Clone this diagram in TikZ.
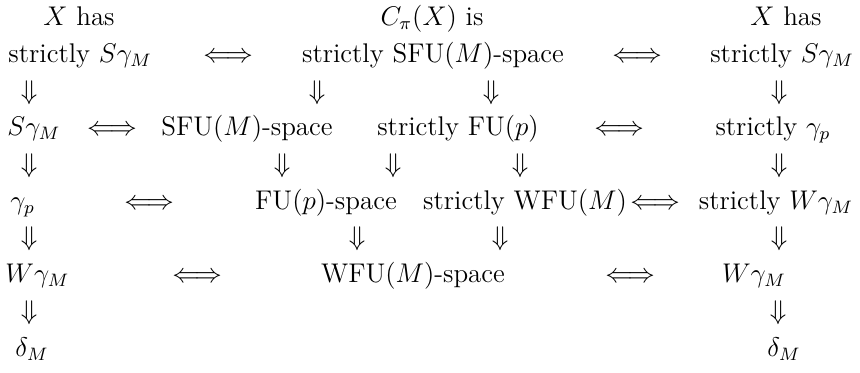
\documentclass[tikz,border=0pt,12pt]{standalone}
\begin{document}
\begin{tikzpicture}[x=0.4444pt,y=-0.4444pt,
  lbl/.style={inner sep=0pt,anchor=base},
  lft/.style={inner sep=0pt,anchor=base west},
  iff/.style={inner sep=0pt,anchor=base},
  dn/.style={inner sep=0pt,anchor=base}]
\useasboundingbox (0,0) rectangle (860,372);
% row 1
\node[lft] (a1) at (43,25) {$X$ has};
\node[lbl] (b1) at (432,25) {$C_\pi(X)$ is};
\node[lbl] (c1) at (786,25) {$X$ has};
% row 2
\node[lft] (a2) at (8,62) {strictly $S\gamma_M$};
\node[iff] (e21) at (228,62) {$\Longleftrightarrow$};
\node[lbl] (b2) at (433,62) {strictly SFU$(M)$-space};
\node[iff] (e22) at (637,62) {$\Longleftrightarrow$};
\node[lbl] (c2) at (782,62) {strictly $S\gamma_M$};
% row 3 arrows
\node[dn] (d31) at (29,99) {$\Downarrow$};
\node[dn] (d32) at (317,99) {$\Downarrow$};
\node[dn] (d33) at (491,99) {$\Downarrow$};
\node[dn] (d34) at (779,99) {$\Downarrow$};
% row 4
\node[lft] (a4) at (7,135) {$S\gamma_M$};
\node[iff] (e41) at (112,135) {$\Longleftrightarrow$};
\node[lbl] (b4) at (247,135) {SFU$(M)$-space};
\node[lbl] (c4) at (458,135) {strictly FU$(p)$};
\node[iff] (e42) at (619,135) {$\Longleftrightarrow$};
\node[lbl] (f4) at (773,135) {strictly $\gamma_p$};
% row 5 arrows
\node[dn] (d51) at (29,172) {$\Downarrow$};
\node[dn] (d52) at (282,172) {$\Downarrow$};
\node[dn] (d53) at (393,172) {$\Downarrow$};
\node[dn] (d54) at (520,172) {$\Downarrow$};
\node[dn] (d55) at (779,172) {$\Downarrow$};
% row 6
\node[lft] (a6) at (10,209) {$\gamma_p$};
\node[iff] (e61) at (149,209) {$\Longleftrightarrow$};
\node[lbl] (b6) at (326,209) {FU$(p)$-space};
\node[lbl] (c6) at (525,209) {strictly WFU$(M)$};
\node[iff] (e62) at (655,209) {$\Longleftrightarrow$};
\node[lbl] (f6) at (776,209) {strictly $W\gamma_M$};
% row 7 arrows
\node[dn] (d71) at (29,245) {$\Downarrow$};
\node[dn] (d72) at (357,245) {$\Downarrow$};
\node[dn] (d73) at (500,245) {$\Downarrow$};
\node[dn] (d74) at (779,245) {$\Downarrow$};
% row 8
\node[lft] (a8) at (5,282) {$W\gamma_M$};
\node[iff] (e81) at (197,282) {$\Longleftrightarrow$};
\node[lbl] (b8) at (413,282) {WFU$(M)$-space};
\node[iff] (e82) at (630,282) {$\Longleftrightarrow$};
\node[lbl] (f8) at (754,282) {$W\gamma_M$};
% row 9 arrows
\node[dn] (d91) at (29,319) {$\Downarrow$};
\node[dn] (d92) at (778,319) {$\Downarrow$};
% row 10
\node[lft] (a10) at (15,356) {$\delta_M$};
\node[lbl] (f10) at (784,356) {$\delta_M$};
\end{tikzpicture}
\end{document}
